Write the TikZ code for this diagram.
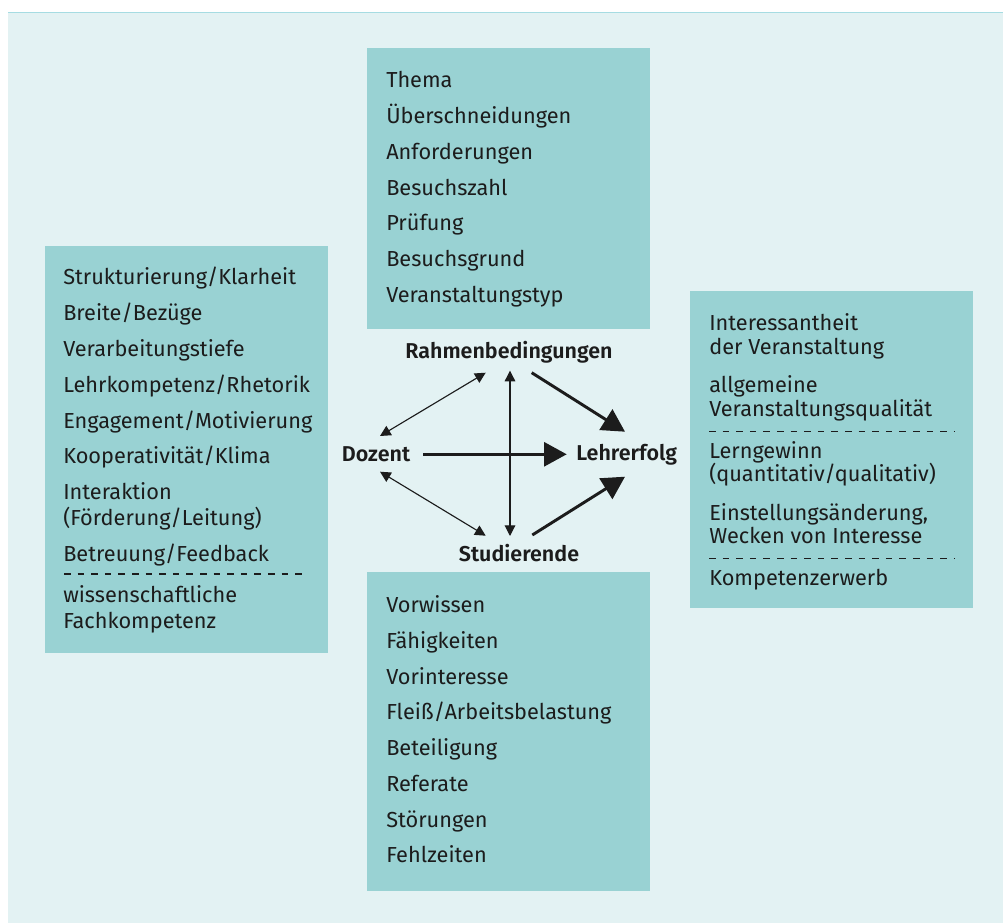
\documentclass[tikz,border=0pt]{standalone}
\usepackage{fontspec}
\setmainfont{Fira Sans}[BoldFont={Fira Sans SemiBold}]
\usetikzlibrary{arrows.meta}

\definecolor{bgc}{HTML}{E3F2F3}
\definecolor{rulec}{HTML}{A6DCE2}
\definecolor{boxc}{HTML}{99D2D3}
\definecolor{ink}{HTML}{1C1C1C}

\tikzset{
  panel/.style={fill=boxc, draw=none, inner sep=0pt, minimum width=212.25pt},
  item/.style={anchor=base west, inner sep=0pt, text=ink, font=\fontsize{16.3}{19}\selectfont},
  hub/.style={anchor=base, inner sep=0pt, text=ink, font=\fontsize{16.1}{19}\selectfont\bfseries},
  sep/.style={draw=ink, line width=1.2pt, dash pattern=on 5pt off 5.2pt},
  weak/.style={draw=ink, line width=0.85pt, {Triangle[length=8pt,width=8pt]}-{Triangle[length=8pt,width=8pt]}},
  strong/.style={draw=ink, line width=2.2pt, -{Triangle[length=17pt,width=18pt]}}
}

\begin{document}
\begin{tikzpicture}[x=0.75pt, y=-0.75pt]
\useasboundingbox (0,0) rectangle (1003,923);

% backdrop with a thin rule along its top edge
\fill[bgc] (8,12) rectangle (1003,923);
\draw[rulec, line width=1pt] (8,12.5) -- (1003,12.5);

% the four panels
\node[panel, minimum height=210.75pt] (topbox) at (508.85,188.5) {};
\node[panel, minimum height=305.25pt] (leftbox) at (186.2,449.5) {};
\node[panel, minimum height=237.75pt] (rightbox) at (831.5,449.5) {};
\node[panel, minimum height=239.25pt] (botbox) at (508.85,731.5) {};

% framework conditions
\foreach \y/\t [count=\i] in {88/{Thema}, 124/{Überschneidungen}, 160/{Anforderungen},
    195.5/{Besuchszahl}, 231/{Prüfung}, 267/{Besuchsgrund}, 303/{Veranstaltungstyp}}
  \node[item] (top\i) at (386,\y) {\t};

% lecturer
\foreach \y/\t [count=\i] in {285/{Strukturierung/Klarheit}, 320.8/{Breite/Bezüge},
    356.6/{Verarbeitungstiefe}, 392.4/{Lehrkompetenz/Rhetorik},
    428.2/{Engagement/Motivierung}, 464/{Kooperativität/Klima},
    499.8/{Interaktion}, 525.8/{(Förderung/Leitung)}, 561.6/{Betreuung/Feedback},
    602.5/{wissenschaftliche}, 628/{Fachkompetenz}}
  \node[item] (left\i) at (63,\y) {\t};

% outcomes
\foreach \y/\t [count=\i] in {331/{Interessantheit}, 354.5/{der Veranstaltung},
    392.7/{allgemeine}, 416.7/{Veranstaltungsqualität},
    458.3/{Lerngewinn}, 481.8/{(quantitativ/qualitativ)},
    520/{Einstellungsänderung,}, 543.7/{Wecken von Interesse},
    585/{Kompetenzerwerb}}
  \node[item] (right\i) at (709,\y) {\t};

% students
\foreach \y/\t [count=\i] in {612/{Vorwissen}, 648/{Fähigkeiten}, 684/{Vorinteresse},
    719.5/{Fleiß/Arbeitsbelastung}, 755/{Beteiligung}, 791/{Referate},
    827/{Störungen}, 862.5/{Fehlzeiten}}
  \node[item] (bot\i) at (386,\y) {\t};

% dashed separators
\coordinate (ls1) at (64,574);   \coordinate (ls2) at (304,574);
\coordinate (rs1) at (709,431.7); \coordinate (rs2) at (954,431.7);
\coordinate (rt1) at (709,558.3); \coordinate (rt2) at (954,558.3);
\draw[sep] (ls1) -- (ls2);
\draw[sep] (rs1) -- (rs2);
\draw[sep] (rt1) -- (rt2);

% central model
\node[hub] (rahmen) at (509,359) {Rahmenbedingungen};
\node[hub] (dozent) at (376,461) {Dozent};
\node[hub] (lehr) at (626.7,460) {Lehrerfolg};
\node[hub] (stud) at (519,561) {Studierende};

\draw[weak] ([shift={(4,-25)}]dozent.base) -- ([shift={(-23.3,13.7)}]rahmen.base);
\draw[weak] ([shift={(4,10.7)}]dozent.base) -- ([shift={(-33.3,-25.3)}]stud.base);
\draw[weak] ([shift={(1,11.7)}]rahmen.base) -- ([shift={(-9,-25)}]stud.base);

\draw[strong] ([shift={(47.3,-6.7)}]dozent.base) -- ([shift={(-60,-5.7)}]lehr.base);
\draw[strong] ([shift={(22.7,13.7)}]rahmen.base) -- ([shift={(-1.7,-28.3)}]lehr.base);
\draw[strong] ([shift={(13.3,-26)}]stud.base) -- ([shift={(-1.7,16.7)}]lehr.base);
\end{tikzpicture}
\end{document}
